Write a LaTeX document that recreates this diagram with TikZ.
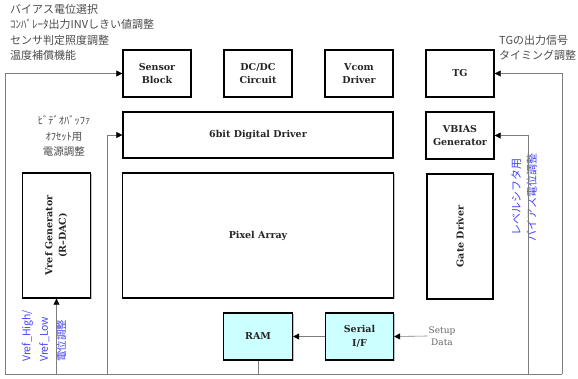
\documentclass[tikz,border=0pt]{standalone}
\usepackage{fontspec}
\usepackage{graphicx}
\setmainfont{DejaVu Serif}
\newfontfamily\jpfont{Noto Sans CJK JP}
\usepackage{xcolor}
\usepackage{tikz}
\usetikzlibrary{arrows.meta, positioning, shadows}
\definecolor{ramcyan}{RGB}{204,255,255}
\definecolor{wiregray}{RGB}{125,125,125}
\definecolor{noteblue}{RGB}{70,70,250}
\tikzstyle{block}    = [rectangle, draw, line width=1.3pt, fill=white, text centered, align=center,
                        minimum width=68pt, minimum height=47pt, font=\bfseries\fontsize{9.5}{13.5}\selectfont,
                        text=black!85, drop shadow={shadow xshift=1.2pt, shadow yshift=-1.2pt, fill=black!40, opacity=0.6}]
\tikzstyle{memblock} = [block, fill=ramcyan]
\tikzstyle{wire}     = [draw=wiregray, line width=0.6pt]
\tikzstyle{arrow}    = [wire, -{Triangle[length=6pt, width=6pt, color=black]}]
\tikzstyle{note}     = [text=black!70, font=\jpfont\fontsize{11}{15.5}\selectfont, inner sep=0pt]
\tikzstyle{bluenote} = [note, text=noteblue, rotate=90]

\begin{document}
\begin{tikzpicture}[x=1pt, y=-1pt]
  \fill[white] (0,0) rectangle (578,378);
  \useasboundingbox (0,0) rectangle (578,378);

  % Top row
  \node[block] (sensor) at (157,73.5) {Sensor\\Block};
  \node[block, right=31.7pt of sensor] (dcdc) {DC/DC\\Circuit};
  \node[block, right=31.7pt of dcdc]   (vcom) {Vcom\\Driver};
  \node[block, right=31.7pt of vcom]   (tg)   {TG};

  % Drivers and array
  \node[block, below=13.7pt of dcdc, minimum width=270pt, minimum height=46pt] (digdrv) {6bit Digital Driver};
  \node[block, below=13.7pt of tg] (vbias) {VBIAS\\Generator};
  \node[block, below=13.7pt of digdrv, minimum width=271pt, minimum height=125pt] (pixel) {Pixel Array};
  \node[block, below=13.7pt of vbias, minimum width=66pt, minimum height=125pt] (gate) {\rotatebox{90}{Gate Driver}};
  \node[block, left=30.7pt of pixel, minimum height=125pt] (vref)
    {\rotatebox{90}{\begin{tabular}{@{}c@{}}Vref Generator\\(R--DAC)\end{tabular}}};

  % Memory and interface
  \node[memblock, below=13.7pt of pixel, minimum width=69pt] (ram) {RAM};
  \node[memblock, right=31.7pt of ram] (serial) {Serial\\I/F};

  % Notes
  \node[note, anchor=north west, align=left] (optnote) at (10,4)
    {バイアス電位選択\\ｺﾝﾊﾟﾚｰﾀ出力INVしきい値調整\\センサ判定照度調整\\温度補償機能};
  \node[note, anchor=north west, align=left] (tgnote) at (499,35) {TGの出力信号\\タイミング調整};
  \node[note, align=center, font=\jpfont\fontsize{10.5}{15.5}\selectfont] (vbufnote) at (64,136)
    {ﾋﾞﾃﾞｵﾊﾞｯﾌｧ\\ｵﾌｾｯﾄ用\\電源調整};
  \node[bluenote, align=center] (lsnote) at (524,197) {レベルシフタ用\\バイアス電位調整};
  \node[bluenote, anchor=west, align=left, font=\jpfont\fontsize{10.5}{17.5}\selectfont] (vrefnote) at (44,362)
    {Vref\_High/\\Vref\_Low\\電位調整};
  \node[text=black!60, align=center, inner sep=1pt, font=\fontsize{9}{12.5}\selectfont] (setup) at (442,336) {Setup\\Data};

  % Wiring
  \coordinate (bl) at (5,374);
  \coordinate (br) at (562,374);
  \coordinate (vbtap) at (528,374);
  \coordinate (ddtap) at (107,374);
  \draw[wire]  (bl) -- (br);
  \draw[arrow] (bl) |- (sensor.west);
  \draw[arrow] (br) |- (tg.east);
  \draw[arrow] (vbtap) |- (vbias.east);
  \draw[arrow] (ddtap) |- (digdrv.west);
  \draw[arrow] (vref.south |- bl) -- (vref.south);
  \draw[wire]  (ram.south) -- (ram.south |- bl);
  \draw[arrow] (serial.west) -- (ram.east);
  \draw[arrow] (setup.west) -- (serial.east);
\end{tikzpicture}
\end{document}
